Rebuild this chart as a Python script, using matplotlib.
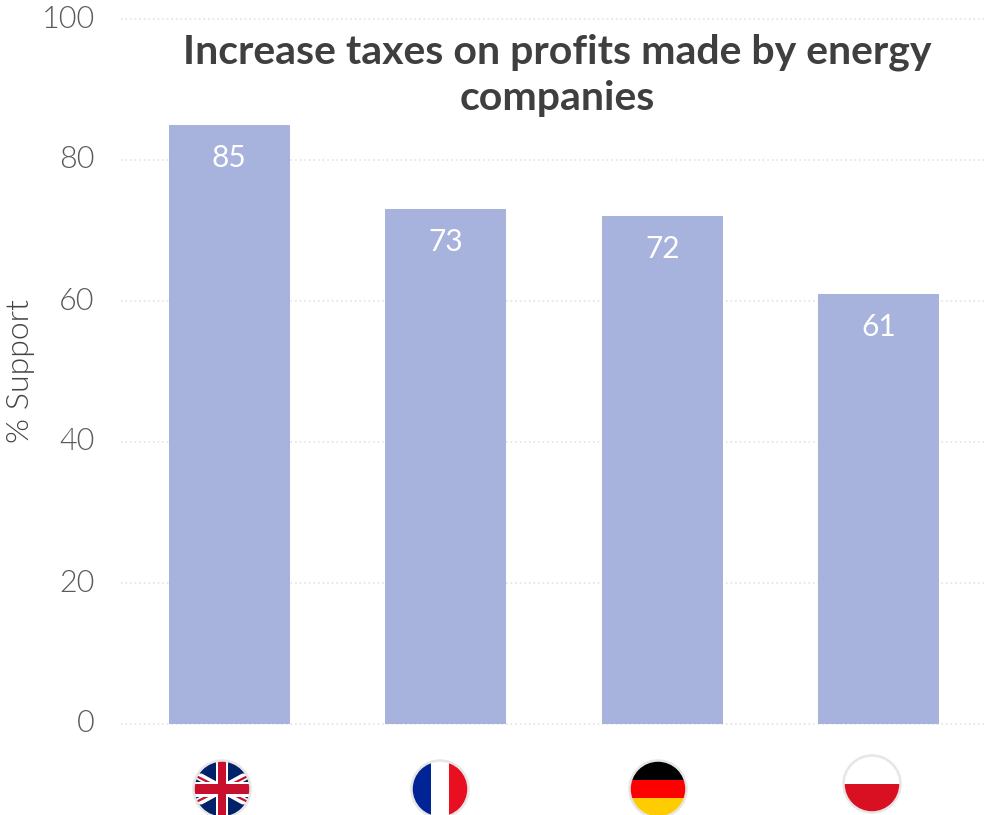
import matplotlib
matplotlib.use("Agg")
import matplotlib.pyplot as plt
from matplotlib.patches import Circle, Rectangle, Polygon

plt.rcParams["font.family"] = ["Lato", "DejaVu Sans"]

countries = ["UK", "France", "Germany", "Poland"]
support = [85, 73, 72, 61]
y_ticks = [0, 20, 40, 60, 80, 100]
title = "Increase taxes on profits made by energy\ncompanies"
y_label = "% Support"

W, H = 987, 815
fig = plt.figure(figsize=(W / 100, H / 100), dpi=100)
ax = fig.add_axes([121 / W, 1 - 724 / H, (W - 121) / W, 705 / H])

# ── Bars ─────────────────────────────────────────────────────────────
x = list(range(len(countries)))
bars = ax.bar(x, support, width=0.56, color="#a7b2dd", zorder=2)
ax.set_xlim(-0.5, 3.5)
ax.set_ylim(0, 100)

for bar, val in zip(bars, support):
    ax.annotate(str(val), (bar.get_x() + bar.get_width() / 2, val),
                xytext=(0, -33), textcoords="offset pixels",
                ha="center", va="center", color="white", fontsize=21.5, fontweight=400)

# ── Axes ─────────────────────────────────────────────────────────────
ax.set_yticks(y_ticks)
ax.set_xticks([])
ax.tick_params(axis="y", length=0, pad=19, labelsize=22, labelcolor="#5a5a5a")
for lab in ax.get_yticklabels():
    lab.set_fontweight(300)
    lab.set_verticalalignment("center")
ax.grid(axis="y", color="#dedede", linestyle=(0, (1, 2)), linewidth=1.1, zorder=0)
ax.set_axisbelow(True)
for s in ax.spines.values():
    s.set_visible(False)
for gl in ax.get_ygridlines():
    gl.set_clip_on(False)

fig.text(21 / W, 1 - 371 / H, y_label, rotation=90, ha="center", va="center",
         fontsize=23, fontweight=300, color="#444444")
fig.text(557 / W, 1 - 75.5 / H, title, ha="center", va="center", fontsize=29.5,
         fontweight="bold", color="#3f3f3f", linespacing=1.3)

# ── Flags ────────────────────────────────────────────────────────────
pix = fig.add_axes([0, 0, 1, 1], facecolor="none")
pix.set_xlim(0, W)
pix.set_ylim(H, 0)
pix.axis("off")


def flag(cx, cy, draw, r=28):
    clip = Circle((cx, cy), r, transform=pix.transData)
    for p in draw(cx, cy, r):
        pix.add_patch(p)
        p.set_clip_path(clip)
    pix.add_patch(Circle((cx, cy), r + 0.5, fill=False, ec="#e6e6e6", lw=1.8, zorder=5))


def stripes_h(colors):
    def draw(cx, cy, r):
        h = 2 * r / len(colors)
        return [Rectangle((cx - r, cy - r + i * h), 2 * r, h, color=c, lw=0)
                for i, c in enumerate(colors)]
    return draw


def stripes_v(colors):
    def draw(cx, cy, r):
        w = 2 * r / len(colors)
        return [Rectangle((cx - r + i * w, cy - r), w, 2 * r, color=c, lw=0)
                for i, c in enumerate(colors)]
    return draw


def union_jack(cx, cy, r):
    navy, red = "#012169", "#c8102e"
    out = [Rectangle((cx - r, cy - r), 2 * r, 2 * r, color=navy, lw=0)]

    def diag(x0, y0, x1, y1, w, c):
        return Polygon([(x0 - w, y0), (x0 + w, y0), (x1 + w, y1), (x1 - w, y1)], color=c, lw=0)

    for sx in (1, -1):
        out.append(diag(cx - sx * r, cy - r * 0.55, cx + sx * r, cy + r * 0.55, 8, "white"))
        out.append(diag(cx - sx * r, cy - r * 0.5, cx + sx * r, cy + r * 0.5, 2.5, red))
    out.append(Rectangle((cx - 6, cy - r), 12, 2 * r, color="white", lw=0))
    out.append(Rectangle((cx - r, cy - 7.5), 2 * r, 15, color="white", lw=0))
    out.append(Rectangle((cx - 4.2, cy - r), 8.4, 2 * r, color=red, lw=0))
    out.append(Rectangle((cx - r, cy - 4.7), 2 * r, 9.4, color=red, lw=0))
    return out


flag(222, 789, union_jack)
flag(440, 789, stripes_v(["#002395", "#ffffff", "#e90e20"]))
flag(658, 789, stripes_h(["#000000", "#ff0000", "#ffcc00"]))
flag(872, 784, stripes_h(["#ffffff", "#d90f22"]))

fig.savefig("out.png", dpi=100, facecolor="white")
